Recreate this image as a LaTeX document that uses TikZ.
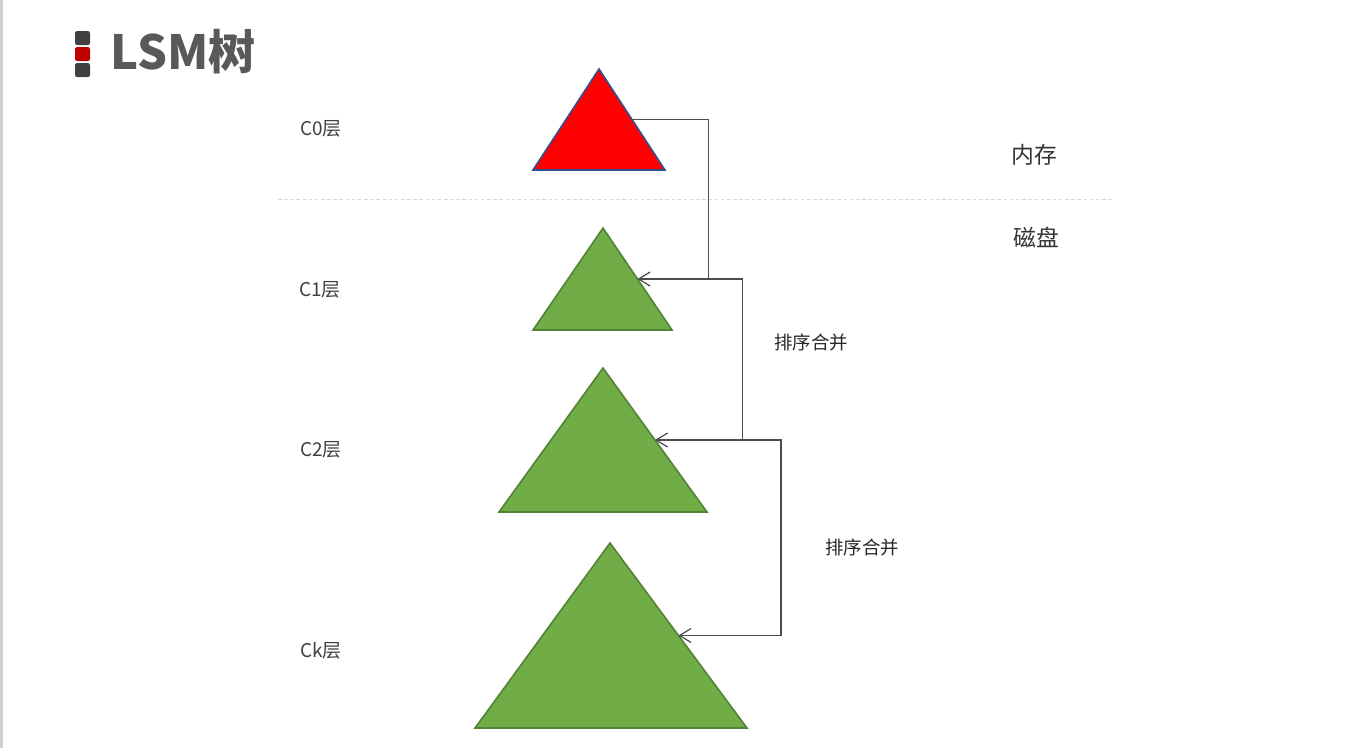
\documentclass[tikz,border=0pt]{standalone}
\usepackage{fontspec}
\setmainfont{Noto Sans CJK SC}
\usepackage{tikz}
\usetikzlibrary{calc,arrows.meta}
\definecolor{treegreen}{HTML}{70AD47}
\definecolor{treeedge}{HTML}{538135}
\definecolor{memedge}{HTML}{2F528F}
\definecolor{titlegray}{HTML}{595959}
\definecolor{markdark}{HTML}{404040}
\definecolor{markred}{HTML}{C00000}

\begin{document}
\begin{tikzpicture}[x=0.02cm,y=-0.02cm,>={Straight Barb[length=6.5pt,width=8pt]},
                    semithick]
  \tikzstyle{layer}=[font=\fontsize{10.8}{12}\selectfont,text=black!75]
  \tikzstyle{store}=[font=\fontsize{13}{15}\selectfont,text=black!80]
  \tikzstyle{merge}=[font=\fontsize{10.5}{12}\selectfont,text=black!85]
  \tikzstyle{tree}=[fill=treegreen,draw=treeedge,line width=0.9pt,line join=miter]
  \tikzstyle{link}=[->,draw=black!70,line width=0.7pt]

  \useasboundingbox (0,0) rectangle (1356,748);
  \draw[black!18,line width=1.5pt] (1.5,0) -- (1.5,748);

  % title
  \fill[markdark,rounded corners=1.2pt] (75,31) rectangle (90,45);
  \fill[markred,rounded corners=1.2pt]  (75,47) rectangle (90,61);
  \fill[markdark,rounded corners=1.2pt] (75,63) rectangle (90,77);
  \node[font=\fontsize{26.8}{29}\bfseries,text=titlegray,anchor=west] (title) at (104,52) {LSM树};

  % trees
  \coordinate (c0a) at (599,69);  \coordinate (c0l) at (533,170); \coordinate (c0r) at (665,170);
  \coordinate (c1a) at (603,228); \coordinate (c1l) at (533,330); \coordinate (c1r) at (672,330);
  \coordinate (c2a) at (603,368); \coordinate (c2l) at (499,512); \coordinate (c2r) at (707,512);
  \coordinate (c3a) at (610,543); \coordinate (c3l) at (475,728); \coordinate (c3r) at (747,728);

  \filldraw[fill=red,draw=memedge,line width=0.9pt] (c0a) -- (c0l) -- (c0r) -- cycle;
  \filldraw[tree] (c1a) -- (c1l) -- (c1r) -- cycle;
  \filldraw[tree] (c2a) -- (c2l) -- (c2r) -- cycle;
  \filldraw[tree] (c3a) -- (c3l) -- (c3r) -- cycle;

  \coordinate (c0e) at ($(c0a)!0.5!(c0r)$);
  \coordinate (c1e) at ($(c1a)!0.5!(c1r)$);
  \coordinate (c2e) at ($(c2a)!0.5!(c2r)$);
  \coordinate (c3e) at ($(c3a)!0.5!(c3r)$);
  \coordinate (j1) at ($(c1e)+(71,0)$);
  \coordinate (j2) at ($(c2e)+(87,0)$);

  % memory / disk
  \draw[black!15,dash pattern=on 2pt off 1.5pt,line width=0.5pt] (278,199) -- (1113,199);
  \node[store] (mem)  at (1034,155) {内存};
  \node[store] (disk) at (1036,238) {磁盘};

  % layers
  \node[layer] (l0) at (321,129) {C0层};
  \node[layer] (l1) at (320,290) {C1层};
  \node[layer] (l2) at (321,450) {C2层};
  \node[layer] (l3) at (321,651) {Ck层};

  \draw[link] (c0e) -| (j1) -- (c1e);
  \draw[link] (j1) -- ++(34,0) |- (c2e);
  \draw[link] (j2) -- ++(39,0) |- (c3e);

  \node[merge] (m1) at (811,342) {排序合并};
  \node[merge] (m2) at (862,547) {排序合并};

\end{tikzpicture}
\end{document}
